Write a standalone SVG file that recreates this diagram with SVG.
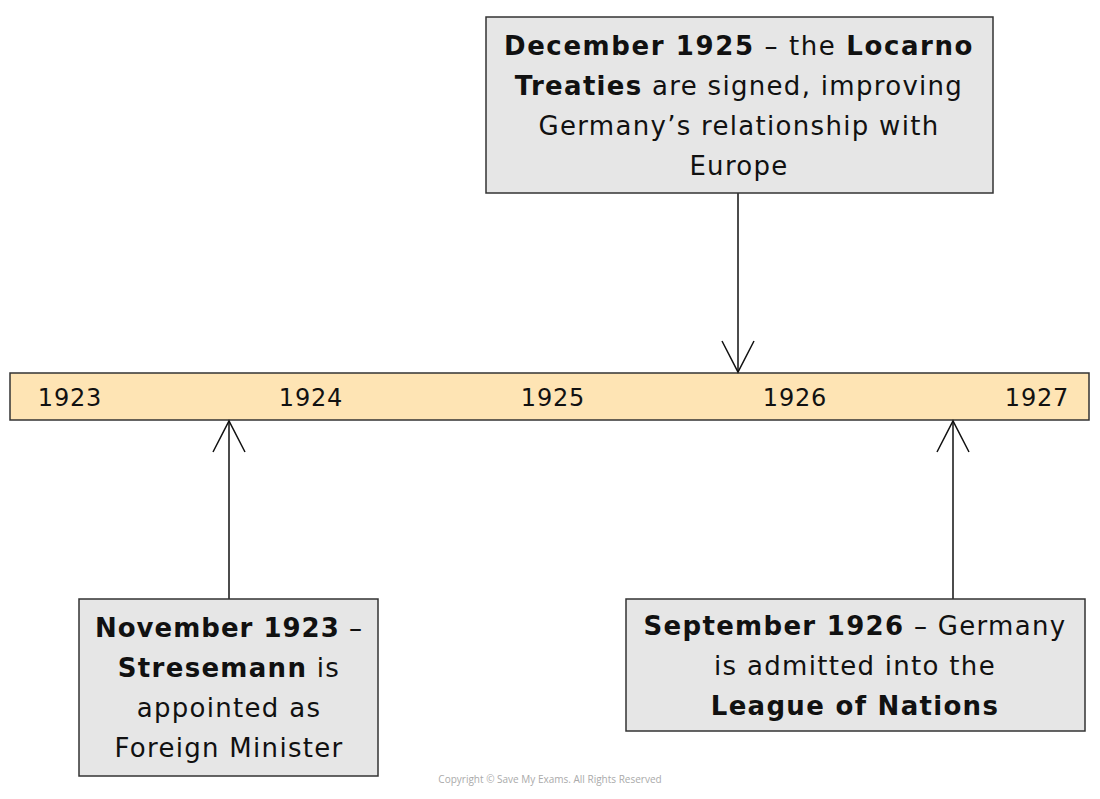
<svg xmlns="http://www.w3.org/2000/svg" width="1100" height="799" viewBox="0 0 1100 799">
<style>
.box{fill:#e6e6e6;stroke:#333;stroke-width:1.5}
.bar{fill:#fee4b4;stroke:#333;stroke-width:1.5}
.t{font-family:"DejaVu Sans","Liberation Sans",sans-serif;font-size:26px;fill:#111;text-anchor:middle;letter-spacing:1.3px}
.b{font-weight:bold}
.yr{font-family:"DejaVu Sans","Liberation Sans",sans-serif;font-size:24px;fill:#111;text-anchor:middle;letter-spacing:0.8px}
.con{stroke:#111;stroke-width:1.5;fill:none}
.cr{font-family:"Open Sans","Liberation Sans",sans-serif;font-size:10px;fill:#aaa;text-anchor:middle}
</style>
<rect width="1100" height="799" fill="#fff"/>
<g id="timeline">
<rect class="bar" x="10" y="373" width="1079" height="47"/>
<text class="yr" x="70" y="406">1923</text>
<text class="yr" x="311" y="406">1924</text>
<text class="yr" x="553" y="406">1925</text>
<text class="yr" x="795" y="406">1926</text>
<text class="yr" x="1037" y="406">1927</text>
</g>
<g id="connectors">
<line class="con" x1="738" y1="193" x2="738" y2="372"/>
<polyline class="con" points="722,341 738,372 754,341"/>
<line class="con" x1="229" y1="599" x2="229" y2="421"/>
<polyline class="con" points="213,452 229,421 245,452"/>
<line class="con" x1="953" y1="599" x2="953" y2="421"/>
<polyline class="con" points="937,452 953,421 969,452"/>
</g>
<g id="node-dec1925">
<rect class="box" x="486" y="17" width="507" height="176"/>
<text class="t" x="739" y="55" style="letter-spacing:1.6px"><tspan class="b">December 1925</tspan> – the <tspan class="b">Locarno</tspan></text>
<text class="t" x="739" y="95"><tspan class="b">Treaties</tspan> are signed, improving</text>
<text class="t" x="739" y="135">Germany’s relationship with</text>
<text class="t" x="739" y="175">Europe</text>
</g>
<g id="node-nov1923">
<rect class="box" x="79" y="599" width="299" height="177"/>
<text class="t" x="229" y="637" style="letter-spacing:1px"><tspan class="b">November 1923</tspan> –</text>
<text class="t" x="229" y="677"><tspan class="b">Stresemann</tspan> is</text>
<text class="t" x="229" y="717">appointed as</text>
<text class="t" x="229" y="757">Foreign Minister</text>
</g>
<g id="node-sep1926">
<rect class="box" x="626" y="599" width="459" height="132"/>
<text class="t" x="855" y="635"><tspan class="b">September 1926</tspan> – Germany</text>
<text class="t" x="855" y="675">is admitted into the</text>
<text class="t" x="855" y="715"><tspan class="b">League of Nations</tspan></text>
</g>
<text class="cr" x="550" y="783">Copyright © Save My Exams. All Rights Reserved</text>
</svg>
